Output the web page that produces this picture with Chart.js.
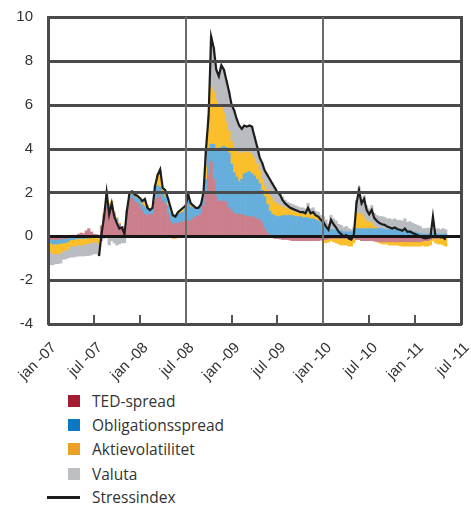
<!DOCTYPE html>
<html>
<head>
<meta charset="utf-8">
<script src="https://cdn.jsdelivr.net/npm/chart.js@4.4.1/dist/chart.umd.min.js"></script>
<style>
  html, body { margin: 0; padding: 0; background: #fff; }
  #wrap { position: relative; width: 471px; height: 505px; overflow: hidden; }
  #c { position: absolute; left: 0; top: 0; }
  .item { position: absolute; left: 0; height: 20px; width: 300px; font-family: "Open Sans", sans-serif; font-size: 15.5px; color: #333; }
  .item span.sw { position: absolute; left: 68px; top: 4px; width: 12px; height: 12px; }
  .item span.ln { position: absolute; left: 47px; top: 9px; width: 33px; height: 2.5px; background: #222; }
  .item span.tx { position: absolute; left: 92px; top: -1px; white-space: nowrap; }
</style>
</head>
<body>
<div id="wrap">
  <canvas id="c" width="471" height="386"></canvas>
  <div id="legend"></div>
</div>
<script>
// Half-year tick labels on the time axis (months since jan 2007, step 6)
const tickLabels = ['jan -07', 'jul -07', 'jan -08', 'jul -08', 'jan -09', 'jul -09', 'jan -10', 'jul -10', 'jan -11', 'jul -11'];
const xTickMonths = [0, 6, 12, 18, 24, 30, 36, 42, 48, 54];
const yTickValues = [-4, -2, 0, 2, 4, 6, 8, 10];

// Observations every third of a month, starting jan 2007
const stepMonths = 1 / 3;

// Contributions (standard deviations) per component
const tedSpread = [
  -0.15, -0.15, -0.15, -0.15, -0.15, -0.12, -0.1, -0.1, -0.08, 0.05,
  0.05, 0.05, 0.1, 0.15, 0.12, 0.25, 0.35, 0.2, 0.1, 0.08,
  0.05, 0.4, 0.9, 1.3, 1.2, 1.3, 0.9, 0.7, 0.5, 0.35,
  0.4, 1.1, 1.7, 1.75, 1.6, 1.5, 1.35, 1.15, 1.0, 0.95,
  1.0, 1.0, 1.6, 1.75, 1.85, 1.6, 1.45, 1.0, 0.7, 0.55,
  0.6, 0.6, 0.65, 0.65, 0.7, 0.7, 0.7, 0.8, 0.9, 0.95,
  1.0, 1.4, 2.0, 2.8, 3.4, 2.6, 1.8, 1.6, 1.6, 1.6,
  1.55, 1.3, 1.15, 1.05, 1.0, 1.0, 1.0, 0.95, 0.9, 0.9,
  0.9, 0.85, 0.8, 0.75, 0.6, 0.35, 0.15, 0.0, -0.05, -0.1,
  -0.1, -0.12, -0.15, -0.15, -0.15, -0.18, -0.2, -0.2, -0.2, -0.2,
  -0.2, -0.2, -0.2, -0.2, -0.2, -0.2, -0.2, -0.18, -0.15, -0.15,
  -0.12, -0.1, -0.1, -0.1, -0.1, -0.1, -0.1, -0.1, -0.1, -0.1,
  -0.1, -0.15, -0.15, -0.2, -0.2, -0.2, -0.2, -0.2, -0.22, -0.25,
  -0.25, -0.25, -0.25, -0.25, -0.25, -0.25, -0.25, -0.25, -0.25, -0.25,
  -0.25, -0.25, -0.25, -0.25, -0.25, -0.25, -0.25, -0.22, -0.2, -0.2,
  -0.15, -0.1, -0.1, -0.1, -0.05, -0.05, -0.05
];
const obligationsspread = [
  -0.15, -0.15, -0.2, -0.2, -0.2, -0.2, -0.2, -0.18, -0.15, -0.15,
  -0.15, -0.12, -0.1, -0.1, -0.1, -0.08, -0.08, -0.05, -0.05, -0.05,
  -0.05, 0.05, 0.05, 0.1, 0.1, 0.1, 0.1, 0.1, 0.05, 0.05,
  0.05, 0.05, 0.15, 0.15, 0.2, 0.25, 0.3, 0.3, 0.35, 0.35,
  0.2, 0.25, 0.5, 0.55, 0.4, 0.4, 0.35, 0.4, 0.4, 0.3,
  0.35, 0.4, 0.4, 0.45, 0.55, 1.0, 0.65, 0.5, 0.35, 0.35,
  0.4, 0.45, 0.6, 1.1, 0.8, 1.6, 2.2, 2.4, 2.45, 2.5,
  2.5, 2.5, 2.15, 1.85, 1.7, 1.5, 1.6, 1.9, 2.0, 2.05,
  1.95, 1.9, 1.8, 1.65, 1.5, 1.45, 1.3, 1.15, 1.0, 0.95,
  0.9, 0.9, 0.95, 0.95, 0.95, 0.95, 0.95, 0.9, 0.9, 0.9,
  0.85, 0.85, 0.85, 0.8, 0.8, 0.75, 0.7, 0.65, 0.55, 0.4,
  0.3, 0.3, 0.3, 0.3, 0.25, 0.25, 0.2, 0.2, 0.2, 0.2,
  0.25, 0.35, 0.35, 0.35, 0.35, 0.35, 0.35, 0.35, 0.35, 0.35,
  0.35, 0.35, 0.32, 0.3, 0.3, 0.3, 0.3, 0.28, 0.28, 0.25,
  0.25, 0.25, 0.22, 0.2, 0.2, 0.15, 0.12, 0.1, 0.1, 0.1,
  0.1, 0.15, 0.1, 0.1, 0.1, 0.1, 0.1
];
const aktievolatilitet = [
  -0.35, -0.4, -0.45, -0.45, -0.45, -0.45, -0.35, -0.35, -0.35, -0.3,
  -0.3, -0.3, -0.3, -0.3, -0.3, -0.25, -0.25, -0.25, -0.2, -0.2,
  -0.3, 0.05, 0.1, 0.3, 0.2, 0.2, 0.1, 0.05, 0.05, 0.05,
  0.0, 0.05, 0.1, 0.1, 0.1, 0.1, 0.1, 0.15, 0.2, 0.1,
  0.05, 0.05, 0.2, 0.5, 0.6, 0.2, 0.2, 0.2, 0.1, -0.1,
  -0.1, 0.05, 0.1, 0.1, 0.1, 0.15, 0.1, 0.05, 0.05, 0.0,
  0.05, 0.1, 0.6, 1.3, 2.6, 2.4, 2.2, 2.0, 1.85, 1.5,
  1.15, 1.0, 1.0, 1.1, 1.2, 1.3, 1.2, 1.0, 0.95, 0.85,
  0.85, 0.8, 0.7, 0.6, 0.5, 0.5, 0.65, 0.7, 0.7, 0.6,
  0.55, 0.5, 0.4, 0.35, 0.3, 0.25, 0.2, 0.2, 0.15, 0.15,
  0.15, 0.15, 0.2, 0.15, 0.2, 0.15, 0.15, 0.05, -0.1, -0.15,
  -0.15, -0.1, -0.15, -0.2, -0.25, -0.3, -0.3, -0.3, -0.35, -0.35,
  -0.2, 0.75, 0.7, 0.65, 0.5, 0.35, 0.3, 0.25, 0.1, 0.05,
  -0.05, -0.1, -0.1, -0.1, -0.15, -0.15, -0.15, -0.15, -0.18, -0.2,
  -0.2, -0.2, -0.2, -0.2, -0.2, -0.2, -0.2, -0.2, -0.25, -0.25,
  -0.25, -0.1, -0.2, -0.25, -0.3, -0.35, -0.4
];
const valuta = [
  -0.65, -0.6, -0.5, -0.45, -0.45, -0.45, -0.4, -0.4, -0.4, -0.5,
  -0.5, -0.5, -0.5, -0.5, -0.5, -0.55, -0.55, -0.55, -0.55, -0.55,
  -0.5, -0.2, -0.1, 0.2, -0.4, -0.2, -0.3, -0.4, -0.35, -0.3,
  -0.3, 0.0, 0.05, 0.05, 0.0, 0.0, 0.0, 0.0, 0.1, 0.0,
  0.0, 0.0, 0.0, 0.0, 0.15, 0.0, 0.05, 0.1, 0.1, 0.15,
  0.05, 0.05, 0.05, 0.05, 0.05, 0.05, 0.05, 0.05, 0.0, 0.0,
  0.0, 0.05, 0.8, 0.3, 2.3, 2.0, 1.4, 1.3, 1.9, 2.0,
  1.9, 1.8, 1.7, 1.75, 1.45, 1.25, 1.1, 1.2, 1.15, 1.25,
  1.3, 1.0, 0.8, 0.6, 0.75, 0.7, 0.7, 0.75, 0.7, 0.7,
  0.6, 0.6, 0.45, 0.35, 0.3, 0.3, 0.3, 0.3, 0.3, 0.25,
  0.3, 0.25, 0.45, 0.3, 0.3, 0.25, 0.25, 0.25, 0.35, 0.35,
  0.27, 0.65, 0.5, 0.4, 0.3, 0.25, 0.2, 0.25, 0.15, 0.1,
  0.15, 0.55, 1.2, 0.7, 1.0, 0.7, 0.6, 0.8, 0.6, 0.55,
  0.55, 0.55, 0.55, 0.5, 0.5, 0.45, 0.5, 0.45, 0.45, 0.45,
  0.55, 0.4, 0.45, 0.4, 0.35, 0.35, 0.33, 0.25, 0.25, 0.28,
  0.25, 0.3, 0.2, 0.25, 0.2, 0.25, 0.2
];
// Composite stress index (starts summer 2007)
const stressindex = [
  null, null, null, null, null, null, null, null, null, null,
  null, null, null, null, null, null, null, null, null, null,
  -0.9, 0.1, 0.9, 2.0, 1.0, 1.5, 0.9, 0.6, 0.35, 0.4,
  0.1, 1.2, 2.0, 2.05, 1.9, 1.85, 1.75, 1.6, 1.7, 1.3,
  1.2, 1.3, 2.3, 2.8, 3.05, 2.2, 2.1, 1.75, 1.35, 0.95,
  0.9, 1.1, 1.2, 1.3, 1.4, 1.9, 1.5, 1.4, 1.3, 1.3,
  1.45, 2.0, 4.0, 5.5, 9.1, 8.6, 7.6, 7.3, 7.8, 7.6,
  7.1, 6.6, 6.0, 5.75, 5.35, 5.05, 4.9, 5.05, 5.0, 5.05,
  5.0, 4.55, 4.1, 3.6, 3.35, 3.0, 2.8, 2.6, 2.4, 2.2,
  2.0, 1.9, 1.65, 1.5, 1.4, 1.3, 1.25, 1.2, 1.15, 1.1,
  1.1, 1.05, 1.3, 1.05, 1.1, 0.95, 0.9, 0.75, 0.65, 0.45,
  0.3, 0.75, 0.55, 0.4, 0.2, 0.1, 0.0, 0.05, -0.1, -0.15,
  0.1, 1.5, 2.1, 1.5, 1.7, 1.2, 1.0, 1.2, 0.83, 0.7,
  0.6, 0.55, 0.52, 0.45, 0.4, 0.35, 0.4, 0.33, 0.3, 0.25,
  0.35, 0.2, 0.22, 0.15, 0.1, 0.05, 0.0, -0.07, -0.1, -0.07,
  -0.05, 0.9, 0.0, 0.0, -0.05, -0.05, -0.15
];

const seriesNames = ['TED-spread', 'Obligationsspread', 'Aktievolatilitet', 'Valuta', 'Stressindex'];
const barFill = ['#cb7f8c', '#66afdd', '#fbbf2c', '#b9bcc0'];
const legendFill = ['#a51c30', '#0a78c4', '#eba128', '#bebfc3'];
const lineColour = '#1d1d1d';
const gridColour = '#4a4a4a';

const monthAxis = tedSpread.map((_, i) => i * stepMonths);
const fullHeightTicks = [18, 36];

// Plot frame and grid, painted over the stacked bars
const plotGrid = {
  id: 'plotGrid',
  afterDraw(chart) {
    const xs = chart.scales.x, ys = chart.scales.y, a = chart.chartArea, ctx = chart.ctx;
    const left = Math.round(a.left), right = Math.round(a.right);
    const top = Math.round(a.top), bottom = Math.round(a.bottom);
    ctx.save();
    yTickValues.forEach(v => {
      const py = Math.round(ys.getPixelForValue(v));
      ctx.fillStyle = v === 0 ? '#161616' : gridColour;
      ctx.fillRect(left, py - 1, right - left + 1, 3);
    });
    xTickMonths.forEach(m => {
      const px = Math.round(xs.getPixelForValue(m));
      if (fullHeightTicks.includes(m)) {
        ctx.fillStyle = '#6c6c6c';
        ctx.fillRect(px - 1, top, 2, bottom - top);
      } else if (m === 0 || m === 54) {
        ctx.fillStyle = gridColour;
        ctx.fillRect(px - 1, top - 1, 3, bottom - top + 2);
      } else {
        ctx.fillStyle = '#555';
        ctx.fillRect(px - 1, bottom - 9, 2, 9);
      }
    });
    ctx.restore();
  }
};

const components = [tedSpread, obligationsspread, aktievolatilitet, valuta];
const datasets = components.map((vals, k) => ({
  type: 'bar',
  label: seriesNames[k],
  data: vals,
  backgroundColor: barFill[k],
  borderWidth: 0,
  barPercentage: 1,
  categoryPercentage: 1,
  stack: 'parts',
  order: 1
}));
datasets.push({
  type: 'line',
  label: seriesNames[4],
  data: stressindex,
  borderColor: lineColour,
  borderWidth: 2.2,
  pointRadius: 0,
  tension: 0,
  spanGaps: false,
  stack: 'index',
  order: 0
});

new Chart(document.getElementById('c'), {
  type: 'bar',
  data: { labels: monthAxis, datasets },
  options: {
    responsive: false,
    animation: false,
    devicePixelRatio: 1,
    layout: { padding: { top: 17, right: 10, left: 0, bottom: 0 } },
    plugins: { legend: { display: false }, tooltip: { enabled: false } },
    scales: {
      x: {
        type: 'linear',
        min: 0,
        max: 54,
        offset: false,
        stacked: true,
        border: { color: '#333', width: 2 },
        grid: { display: false, offset: false },
        ticks: {
          stepSize: 6,
          autoSkip: false,
          maxRotation: 45,
          minRotation: 45,
          padding: 7,
          labelOffset: 6,
          color: '#333',
          font: { family: 'Liberation Sans, Arial, sans-serif', size: 15 },
          callback: v => tickLabels[xTickMonths.indexOf(Math.round(v))]
        },
        afterFit: s => { s.height = 62; s.paddingLeft = 0; s.paddingRight = 0; }
      },
      y: {
        min: -4,
        max: 10,
        stacked: true,
        border: { color: '#333', width: 2 },
        grid: { display: false },
        ticks: {
          stepSize: 2,
          padding: 7,
          color: '#333',
          font: { family: 'Liberation Sans, Arial, sans-serif', size: 15 }
        },
        afterFit: s => { s.width = 48; }
      }
    }
  },
  plugins: [plotGrid]
});

// Legend below the plot
const legendTops = [391, 415, 439, 464, 487];
const legendBox = document.getElementById('legend');
seriesNames.forEach((name, k) => {
  const row = document.createElement('div');
  row.className = 'item';
  row.style.top = legendTops[k] + 'px';
  const mark = document.createElement('span');
  if (k < 4) { mark.className = 'sw'; mark.style.background = legendFill[k]; }
  else { mark.className = 'ln'; mark.style.background = lineColour; }
  const txt = document.createElement('span');
  txt.className = 'tx';
  txt.textContent = name;
  row.appendChild(mark);
  row.appendChild(txt);
  legendBox.appendChild(row);
});
</script>
</body>
</html>
